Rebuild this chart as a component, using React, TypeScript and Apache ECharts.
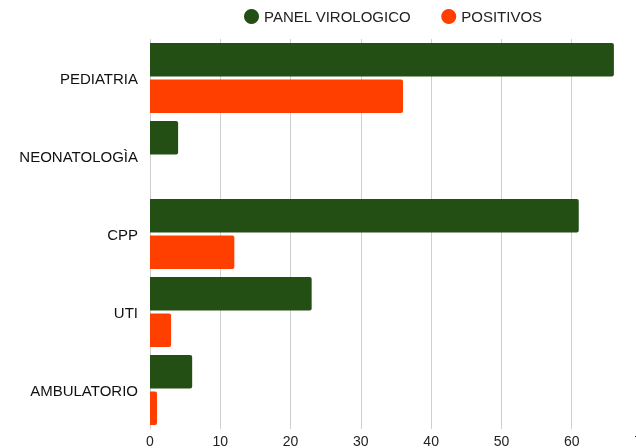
import React, { useEffect, useRef } from "react";
import * as echarts from "echarts";

const categories = ["PEDIATRIA", "NEONATOLOGÌA", "CPP", "UTI", "AMBULATORIO"];
const panelVirologico = [66, 4, 61, 23, 6];
const positivos = [36, 0, 12, 3, 1];
const seriesNames = ["PANEL VIROLOGICO", "POSITIVOS"];

const GREEN = "#234E14";
const ORANGE = "#FF3F00";
const FONT = "Liberation Sans, Arial, Helvetica, sans-serif";

export default function App() {
  const ref = useRef<HTMLDivElement>(null);
  useEffect(() => {
    if (!ref.current) return;
    const chart = echarts.init(ref.current, undefined, { renderer: "svg" });
    chart.setOption({
      animation: false,
      textStyle: { fontFamily: FONT },
      legend: {
        top: 4,
        left: 239,
        icon: "circle",
        itemWidth: 15,
        itemHeight: 15,
        itemGap: 30,
        itemStyle: { borderWidth: 0 },
        textStyle: { fontFamily: FONT, fontSize: 15, color: "#222" },
        data: seriesNames,
      },
      grid: { left: 150, top: 39, width: 492, height: 392, containLabel: false },
      xAxis: {
        type: "value",
        min: 0,
        max: 70,
        interval: 10,
        axisLine: { show: false },
        axisTick: { show: false },
        splitLine: { show: true, lineStyle: { color: "#cfcfcf", width: 1 } },
        axisLabel: { fontFamily: FONT, fontSize: 14, color: "#222", margin: 5 },
      },
      yAxis: {
        type: "category",
        data: categories,
        inverse: true,
        axisLine: { show: false },
        axisTick: { show: false },
        splitLine: { show: false },
        axisLabel: { fontFamily: FONT, fontSize: 15, color: "#111", margin: 12 },
      },
      series: [
        {
          name: seriesNames[0],
          type: "bar",
          data: panelVirologico,
          barGap: "9%",
          barCategoryGap: "10%",
          itemStyle: { color: GREEN, borderRadius: [0, 2, 2, 0] },
        },
        {
          name: seriesNames[1],
          type: "bar",
          data: positivos,
          itemStyle: { color: ORANGE, borderRadius: [0, 2, 2, 0] },
        },
      ],
    });
    return () => chart.dispose();
  }, []);
  return <div ref={ref} style={{ width: 680, height: 448, position: "fixed", left: 0, top: 0 }} />;
}
